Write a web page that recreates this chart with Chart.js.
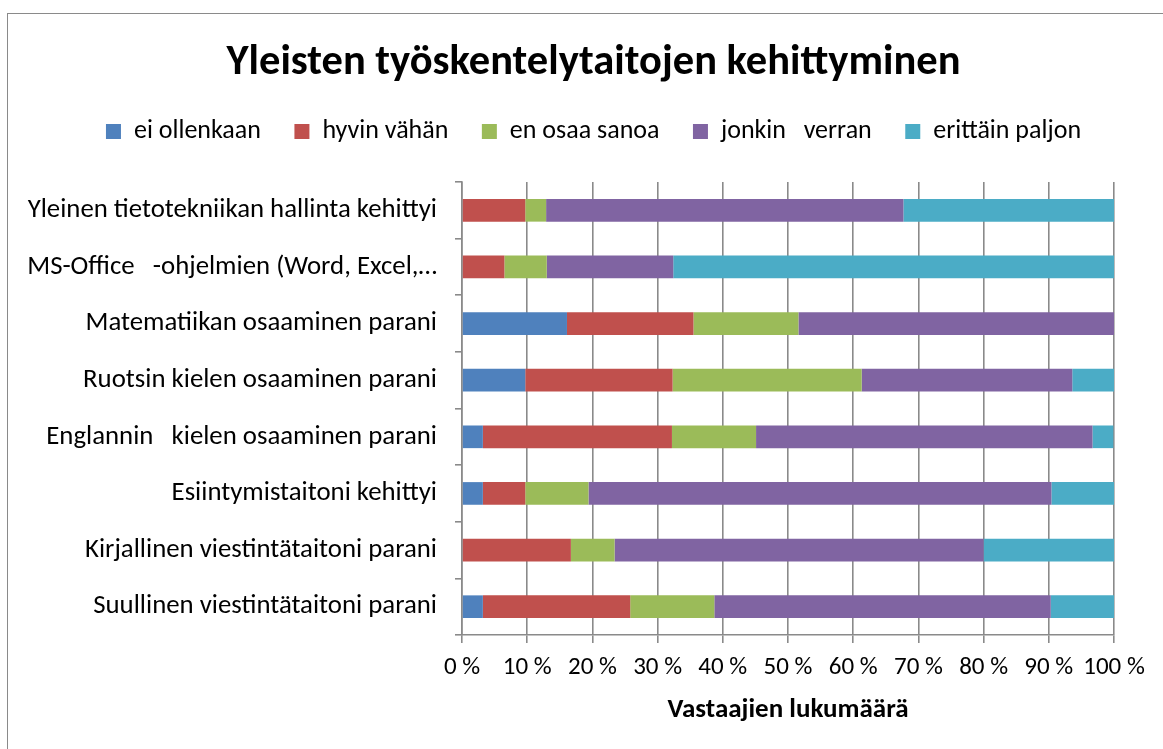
<!DOCTYPE html>
<html>
<head>
<meta charset="utf-8">
<title>Yleisten työskentelytaitojen kehittyminen</title>
<script src="https://cdn.jsdelivr.net/npm/chart.js@4/dist/chart.umd.min.js"></script>
<style>
  html, body { margin: 0; padding: 0; background: #fff; }
  #wrap { position: relative; width: 1163px; height: 749px; overflow: hidden; }
  #frame {
    position: absolute; left: 7px; top: 12.5px; width: 1300px; height: 900px;
    border-left: 1.5px solid #8a8a8a; border-top: 1.5px solid #8a8a8a;
  }
  #chart { position: absolute; left: 0; top: 0; }
</style>
</head>
<body>
<div id="wrap">
  <div id="frame"></div>
  <canvas id="chart" width="1163" height="749"></canvas>
</div>
<script>
// Survey statements (top to bottom)
const categories = [
  'Yleinen tietotekniikan hallinta kehittyi',
  'MS-Office   -ohjelmien (Word, Excel,…',
  'Matematiikan osaaminen parani',
  'Ruotsin kielen osaaminen parani',
  'Englannin   kielen osaaminen parani',
  'Esiintymistaitoni kehittyi',
  'Kirjallinen viestintätaitoni parani',
  'Suullinen viestintätaitoni parani'
];

// Share of respondents per answer, in percent
const eiOllenkaan    = [0,    0,    16.1, 9.7,  3.2,  3.2,  0,    3.2];
const hyvinVahan     = [9.7,  6.5,  19.4, 22.6, 29.0, 6.5,  16.7, 22.6];
const enOsaaSanoa    = [3.2,  6.5,  16.1, 29.0, 12.9, 9.7,  6.7,  12.9];
const jonkinVerran   = [54.8, 19.4, 48.4, 32.3, 51.6, 71.0, 56.6, 51.6];
const erittainPaljon = [32.3, 67.6, 0,    6.4,  3.2,  9.6,  20.0, 9.7];

const seriesNames = ['ei ollenkaan', 'hyvin vähän', 'en osaa sanoa', 'jonkin   verran', 'erittäin paljon'];
const seriesValues = [eiOllenkaan, hyvinVahan, enOsaaSanoa, jonkinVerran, erittainPaljon];
const seriesColors = ['#4F81BD', '#C0504D', '#9BBB59', '#8064A2', '#4BACC6'];

const xTicks = [0, 10, 20, 30, 40, 50, 60, 70, 80, 90, 100];
const chartTitle = 'Yleisten työskentelytaitojen kehittyminen';
const axisTitle = 'Vastaajien lukumäärä';

const FONT = 'Carlito, Calibri, Lato, "Open Sans", sans-serif';
const GRID = '#8a8a8a';

// Empty layout box used as fixed spacing
function spacerBox(position, size) {
  const horizontal = position === 'top' || position === 'bottom';
  return {
    position, weight: 0, fullSize: horizontal, options: {},
    left: 0, top: 0, right: 0, bottom: 0, width: 0, height: 0,
    isHorizontal() { return horizontal; },
    update(maxWidth, maxHeight) {
      this.width = horizontal ? maxWidth : size;
      this.height = horizontal ? size : maxHeight;
    },
    getPadding() { return { left: 0, right: 0, top: 0, bottom: 0 }; },
    draw() {}
  };
}

const spacers = {
  id: 'spacers',
  start(chart) {
    Chart.layouts.addBox(chart, spacerBox('top', 27.5));   // legend to plot
    Chart.layouts.addBox(chart, spacerBox('right', 49));   // room for the last tick label
  }
};

Chart.defaults.font.family = FONT;
Chart.defaults.color = '#000';

new Chart(document.getElementById('chart'), {
  type: 'bar',
  data: {
    labels: categories,
    datasets: seriesNames.map((name, i) => ({
      label: name,
      data: seriesValues[i],
      backgroundColor: seriesColors[i],
      borderWidth: 0,
      categoryPercentage: 0.4,
      barPercentage: 1.0
    }))
  },
  options: {
    indexAxis: 'y',
    responsive: false,
    animation: false,
    devicePixelRatio: 1,
    layout: { padding: { top: 0, left: 24, right: 0, bottom: 22.8 } },
    plugins: {
      title: {
        display: true,
        text: chartTitle,
        color: '#000',
        font: { size: 42.5, weight: 'bold', lineHeight: 1.0 },
        padding: { top: 42, bottom: 0.5 }
      },
      legend: {
        display: true,
        position: 'top',
        labels: {
          boxWidth: 15,
          boxHeight: 15,
          padding: 33.5,
          color: '#000',
          font: { size: 26 }
        }
      },
      tooltip: { enabled: false }
    },
    scales: {
      x: {
        stacked: true,
        min: 0,
        max: 100,
        afterBuildTicks(scale) { scale.ticks = xTicks.map(v => ({ value: v })); },
        afterFit(scale) { scale.height = 91.2; scale.paddingLeft = 0; scale.paddingRight = 0; },
        ticks: {
          callback: v => v + ' %',
          font: { size: 25 },
          color: '#000',
          padding: 10,
          maxRotation: 0
        },
        grid: { color: GRID, lineWidth: 1.6, tickLength: 8, drawTicks: true },
        border: { color: GRID, width: 1.6 },
        title: {
          display: true,
          text: axisTitle,
          color: '#000',
          font: { size: 27, weight: 'bold' },
          padding: { top: 0, bottom: 0 }
        }
      },
      y: {
        stacked: true,
        afterFit(scale) { scale.width = 438; scale.paddingTop = 0; scale.paddingBottom = 0; },
        ticks: { font: { size: 26.8 }, color: '#000', padding: 18 },
        grid: { drawOnChartArea: false, drawTicks: true, tickLength: 7, offset: true, color: GRID, lineWidth: 1.6 },
        border: { color: GRID, width: 1.6 }
      }
    }
  },
  plugins: [spacers]
});
</script>
</body>
</html>
